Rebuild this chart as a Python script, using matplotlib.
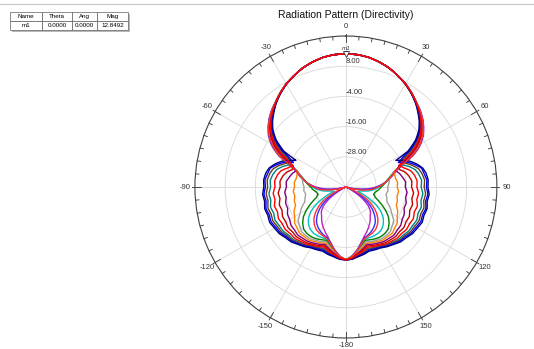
import numpy as np
import matplotlib
matplotlib.use("Agg")
import matplotlib.pyplot as plt
from matplotlib.patches import Rectangle

plt.rcParams['font.family'] = ['Liberation Sans', 'DejaVu Sans']

# half pattern angles (deg), mirrored for the negative side
angulos = [0, 5, 10, 15, 20, 25, 30, 35, 40, 44, 48, 52, 56, 60, 62, 65, 68, 72, 76, 80,
           85, 90, 95, 100, 105, 110, 115, 120, 125, 130, 135, 140, 145, 150, 155, 160, 165, 170, 175, 180]

# directivity (dB), big side lobe -> no side lobe
c0 = [12.85, 12.8, 12.3, 11.4, 10.3, 8.8, 7.2, 5.3, 3.2, 1.2, -0.8, -3.2, -6.6, -11.5, -17.5, -15.0, -12.6, -10.4, -8.6, -7.7,
      -7.2, -7.4, -6.8, -7.2, -6.6, -7.0, -6.6, -7.3, -7.7, -8.7, -9.2, -10.3, -11.1, -12.1, -12.5, -12.9, -12.3, -11.9, -11.2, -11.0]
c1 = [12.85, 12.8, 12.3, 11.4, 10.3, 8.8, 7.3, 5.4, 3.3, 1.4, -0.5, -2.8, -6.0, -10.5, -14.0, -17.0, -13.6, -11.2, -9.0, -8.5,
      -7.7, -8.0, -7.3, -7.8, -7.1, -7.6, -7.2, -7.9, -8.2, -9.2, -9.6, -10.6, -11.4, -12.4, -12.9, -13.3, -12.6, -12.1, -11.3, -11.0]
c2 = [12.85, 12.8, 12.3, 11.4, 10.3, 8.8, 7.3, 5.5, 3.5, 1.6, -0.3, -2.5, -5.5, -9.8, -12.8, -16.5, -14.6, -12.2, -10.2, -9.3,
      -8.6, -8.9, -8.2, -8.6, -7.9, -8.4, -8.0, -8.6, -8.8, -9.7, -10.0, -11.0, -11.7, -12.7, -13.2, -13.7, -12.9, -12.3, -11.4, -11.1]
c3 = [12.85, 12.8, 12.3, 11.4, 10.3, 8.8, 7.3, 5.5, 3.5, 1.8, 0.0, -2.2, -5.0, -9.0, -11.5, -15.2, -16.2, -13.6, -11.6, -10.6,
      -9.8, -10.1, -9.3, -9.7, -9.0, -9.5, -8.9, -9.4, -9.5, -10.3, -10.5, -11.4, -12.0, -13.0, -13.5, -14.1, -13.2, -12.5, -11.5, -11.1]
c4 = [12.85, 12.8, 12.3, 11.4, 10.3, 8.8, 7.3, 5.5, 3.5, 1.9, 0.1, -2.0, -4.6, -8.2, -10.5, -14.3, -17.3, -15.6, -13.4, -12.4,
      -11.6, -11.8, -11.0, -11.4, -10.6, -11.1, -10.4, -10.8, -10.6, -11.2, -11.2, -11.9, -12.4, -13.3, -13.9, -14.6, -13.6, -12.7, -11.6, -11.1]
c5 = [12.85, 12.8, 12.3, 11.4, 10.3, 8.8, 7.3, 5.5, 3.5, 2.0, 0.2, -1.8, -4.3, -7.6, -9.8, -13.4, -17.3, -17.6, -15.7, -14.6,
      -13.7, -13.9, -13.0, -13.4, -12.6, -13.0, -12.2, -12.4, -11.9, -12.3, -12.1, -12.6, -12.9, -13.7, -14.3, -15.1, -14.0, -12.9, -11.7, -11.1]
c6 = [12.85, 12.8, 12.3, 11.4, 10.3, 8.8, 7.3, 5.5, 3.5, 2.0, 0.3, -1.6, -4.0, -7.2, -9.3, -12.8, -17.0, -19.2, -18.0, -17.2,
      -16.2, -16.4, -15.6, -15.9, -15.2, -15.4, -14.4, -14.2, -13.4, -13.4, -13.0, -13.4, -13.6, -14.3, -14.9, -15.7, -14.5, -13.2, -11.8, -11.1]
c7 = [12.85, 12.8, 12.3, 11.4, 10.3, 8.8, 7.3, 5.5, 3.6, 2.1, 0.4, -1.5, -3.8, -6.9, -8.9, -12.3, -16.5, -19.6, -20.0, -20.0,
      -19.4, -19.6, -19.0, -19.4, -18.8, -18.7, -17.3, -16.5, -15.1, -14.7, -14.0, -14.3, -14.3, -15.0, -15.5, -16.3, -15.0, -13.4, -12.0, -11.2]
c8 = [12.85, 12.8, 12.3, 11.4, 10.3, 8.8, 7.3, 5.5, 3.6, 2.1, 0.5, -1.4, -3.6, -6.6, -8.5, -11.8, -16.2, -19.8, -21.3, -22.5,
      -22.8, -23.4, -23.2, -23.8, -23.2, -22.6, -20.6, -19.0, -16.8, -16.0, -15.0, -15.0, -15.0, -15.6, -16.1, -16.9, -15.5, -13.7, -12.1, -11.2]
c9 = [12.85, 12.8, 12.3, 11.4, 10.3, 8.8, 7.4, 5.6, 3.7, 2.2, 0.6, -1.3, -3.5, -6.4, -8.2, -11.5, -16.0, -19.8, -21.6, -23.2,
      -24.6, -26.0, -27.0, -28.2, -28.6, -27.4, -24.8, -22.0, -19.4, -17.6, -16.3, -15.9, -15.9, -16.3, -16.9, -17.5, -16.0, -14.0, -12.2, -11.2]
c10 = [12.85, 12.8, 12.3, 11.4, 10.3, 8.8, 7.4, 5.6, 3.7, 2.3, 0.7, -1.2, -3.3, -6.2, -8.0, -11.2, -15.8, -19.6, -21.4, -23.0,
       -24.8, -26.8, -28.6, -31.0, -34.0, -35.0, -31.0, -26.5, -23.0, -20.6, -19.0, -18.0, -17.6, -17.6, -17.8, -18.0, -16.4, -14.2, -12.3, -11.2]
c11 = [12.85, 12.8, 12.3, 11.4, 10.3, 8.8, 7.4, 5.6, 3.7, 2.4, 0.8, -1.0, -3.1, -6.0, -7.8, -11.0, -15.6, -19.4, -21.2, -22.9,
       -24.9, -27.2, -29.5, -33.0, -37.5, -40.0, -35.5, -30.5, -27.0, -24.2, -22.0, -20.5, -19.4, -18.9, -18.6, -18.2, -16.6, -14.3, -12.3, -11.1]
c12 = [12.85, 12.8, 12.3, 11.4, 10.3, 8.8, 7.4, 5.6, 3.7, 2.4, 0.9, -0.9, -3.0, -5.8, -7.6, -10.8, -15.4, -19.2, -21.0, -22.8,
       -25.0, -27.6, -30.5, -35.0, -40.0, -40.0, -38.5, -33.5, -29.5, -26.3, -23.8, -21.8, -20.6, -19.7, -19.0, -18.5, -16.8, -14.5, -12.4, -11.1]
c13 = [12.85, 12.8, 12.3, 11.4, 10.3, 8.8, 7.4, 5.6, 3.7, 2.5, 1.0, -0.8, -2.8, -5.6, -7.4, -10.6, -15.2, -19.0, -20.8, -22.6,
       -25.2, -28.0, -31.5, -36.0, -40.0, -40.0, -40.0, -36.5, -32.0, -28.4, -26.2, -25.0, -23.3, -21.8, -20.4, -19.0, -17.0, -14.6, -12.5, -11.1]

curvas = [c13, c12, c10, c9, c8, c7, c6, c5, c3, c2, c1, c0, c11, c4]
cores = ['#c020c0', '#3030ff', '#00c0c0', '#008000', '#a0a0a0', '#ff8000', '#800080',
         '#c00000', '#008080', '#6b3a1a', '#0000ff', '#000080', '#ff3030', '#ff0000']

aneis = [-28, -16, -4, 8]
rmin, rmax = -40, 20
theta_lbl = [0, 30, 60, 90, 120, 150, 180, -150, -120, -90, -60, -30]
theta_txt = ['0', '30', '60', '90', '120', '150', '-180', '-150', '-120', '-90', '-60', '-30']

fig = plt.figure(figsize=(5.34, 3.49), dpi=100)
ax = fig.add_axes([0.365, 0.0315, 0.5655, 0.8653], projection='polar')
ax.set_theta_zero_location('N')
ax.set_theta_direction(-1)
ax.set_ylim(rmin, rmax)

ang = np.array(angulos, dtype=float)
th_full = np.deg2rad(np.concatenate([-ang[::-1], ang[1:]]))
for vals, cor in zip(curvas, cores):
    v = np.array(vals)
    r_full = np.concatenate([v[::-1], v[1:]])
    ln, = ax.plot(th_full, r_full, color=cor, lw=1.0)
    ln.get_path()._interpolation_steps = 8  # draw segments as polar arcs

# grid
ax.set_xticks(np.deg2rad(np.arange(0, 360, 30)))
ax.set_xticklabels([])
ax.set_yticks(aneis)
ax.set_yticklabels([])
ax.grid(True, color='#d8d8d8', lw=0.6)
ax.spines['polar'].set_color('#404040')
ax.spines['polar'].set_linewidth(0.8)
ax.tick_params(axis='both', length=0)

# theta ticks every 5 deg, inward
for a in range(0, 360, 5):
    t = np.deg2rad(a)
    if a % 30 == 0:
        ax.plot([t, t], [rmax - 2.4, rmax + 1.0], color='#303030', lw=0.6, clip_on=False)
    else:
        ax.plot([t, t], [rmax - 1.4, rmax], color='#303030', lw=0.6, clip_on=False)

for a, s in zip(theta_lbl, theta_txt):
    off = 3.0 if a == 180 else 3.8
    ax.text(np.deg2rad(a), rmax + off, s, ha='center', va='center', fontsize=5.5,
            color='#333333', clip_on=False)

for r in aneis:
    ax.text(0, r + 0.3, f'{r:.2f}', ha='left', va='bottom', fontsize=5.5, color='#333333')

# marker m1
ax.plot([0], [12.85], marker='v', ms=4, mfc='white', mec='#333333', mew=0.6, zorder=5)
ax.text(0, 14.2, 'm1', ha='center', va='bottom', fontsize=4.5, style='italic', color='#333333')

fig.text(346 / 534, 1 - 15 / 349, 'Radiation Pattern (Directivity)', ha='center', va='center',
         fontsize=7.5, color='#111111')

# top line
fig.add_artist(plt.Line2D([0, 1], [1 - 4 / 349, 1 - 4 / 349], transform=fig.transFigure,
                          color='#c8c8c8', lw=0.8))

# marker table
tx, ty, tw, th = 10 / 534, 1 - 30 / 349, 118 / 534, 18 / 349
fig.add_artist(Rectangle((tx + 2 / 534, ty - 2 / 349), tw, th, transform=fig.transFigure,
                         facecolor='#b8b8b8', edgecolor='none', zorder=-1))
axt = fig.add_axes([tx, ty, tw, th])
axt.axis('off')
tab = axt.table(cellText=[['m1', '0.0000', '0.0000', '12.8492']],
                colLabels=['Name', 'Theta', 'Ang', 'Mag'],
                colWidths=[32 / 118, 30 / 118, 25 / 118, 31 / 118],
                cellLoc='center', bbox=[0, 0, 1, 1])
tab.auto_set_font_size(False)
tab.set_fontsize(4.5)
for cell in tab.get_celld().values():
    cell.set_edgecolor('#606060')
    cell.set_linewidth(0.5)
    cell.set_facecolor('white')

fig.savefig('out.png', dpi=100)
